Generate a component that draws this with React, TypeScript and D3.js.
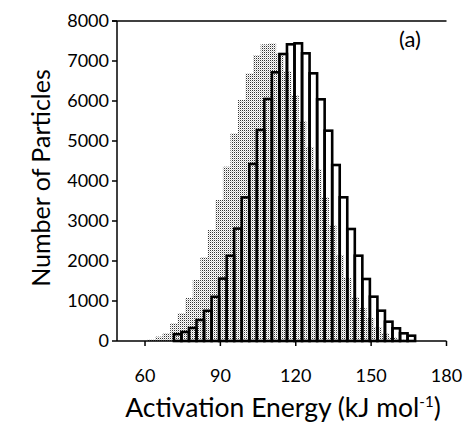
import * as d3 from "d3";

// outlined histogram (bin centres, kJ/mol) and counts
const outlineCenters = [
  73, 76, 79, 82, 85, 88, 91, 94, 97, 100, 103, 106, 109, 112, 115, 118,
  121, 124, 127, 130, 133, 136, 139, 142, 145, 148, 151, 154, 157, 160, 163, 166,
];
const outlineCounts = [
  170, 225, 325, 525, 755, 1105, 1560, 2130, 2810, 3590, 4425, 5275, 6050, 6717, 7175, 7417,
  7442, 7192, 6692, 6042, 5258, 4400, 3592, 2800, 2133, 1550, 1108, 758, 483, 317, 192, 133,
];

// shaded histogram
const shadeCenters = [
  62.5, 65.5, 68.5, 71.5, 74.5, 77.5, 80.5, 83.5, 86.5, 89.5, 92.5, 95.5, 98.5, 101.5, 104.5,
  107.5, 110.5, 113.5, 116.5, 119.5, 122.5, 125.5, 128.5, 131.5, 134.5, 137.5, 140.5, 143.5,
  146.5, 149.5, 152.5, 155.5, 158.5, 161.5,
];
const shadeCounts = [
  40, 110, 200, 450, 700, 1075, 1525, 2100, 2775, 3525, 4358, 5192, 6025, 6692, 7150,
  7417, 7442, 7200, 6750, 6150, 5500, 4850, 4300, 3600, 2900, 2150, 1575, 1100,
  820, 575, 350, 200, 100, 40,
];
const binWidth = 3;

const xTicks = [60, 90, 120, 150, 180];
const yTicks = [0, 1000, 2000, 3000, 4000, 5000, 6000, 7000, 8000];

const W = 467;
const H = 425;
const left = 117;
const right = 446.5;
const top = 21;
const bottom = 341;
const font = "Lato, 'Open Sans', sans-serif";

const App = () => {
  const x = d3.scaleLinear().domain([48.85, 180]).range([left, right]);
  const y = d3.scaleLinear().domain([0, 8000]).range([bottom, top]);

  const shade = shadeCenters.map((c, i) => ({ c, v: shadeCounts[i] }));
  const outline = outlineCenters.map((c, i) => ({ c, v: outlineCounts[i] }));

  return (
    <svg
      width={W}
      height={H}
      style={{ position: "absolute", left: 0, top: 0, background: "#fff" }}
    >
      <defs>
        <pattern id="dots" width="2" height="2" patternUnits="userSpaceOnUse">
          <rect width="2" height="2" fill="#fff" />
          <rect width="1" height="1" fill="#333" />
          <rect x="1" y="1" width="1" height="1" fill="#c8c8c8" />
        </pattern>
      </defs>

      {/* shaded distribution */}
      <g fill="url(#dots)">
        {shade.map((d) => (
          <rect
            key={d.c}
            x={x(d.c - binWidth / 2)}
            y={y(d.v)}
            width={x(d.c + binWidth / 2) - x(d.c - binWidth / 2) + 0.5}
            height={y(0) - y(d.v)}
          />
        ))}
      </g>

      {/* outlined bars */}
      <g fill="none" stroke="#000" strokeWidth={2.6}>
        {outline.map((d) => (
          <rect
            key={d.c}
            x={x(d.c - binWidth / 2)}
            y={y(d.v)}
            width={x(d.c + binWidth / 2) - x(d.c - binWidth / 2)}
            height={y(0) - y(d.v)}
          />
        ))}
      </g>

      {/* axes */}
      <g stroke="#000" strokeWidth={1.5}>
        <line x1={left} x2={left} y1={top} y2={bottom} />
        <line x1={left} x2={right} y1={bottom} y2={bottom} />
        <line x1={left - 5} x2={right} y1={top} y2={top} />
        {yTicks.map((t) => (
          <line key={t} x1={left - 5} x2={left} y1={y(t)} y2={y(t)} />
        ))}
        {xTicks.map((t) => (
          <line key={t} x1={x(t)} x2={x(t)} y1={bottom} y2={bottom + 5} />
        ))}
      </g>

      <g fontFamily={font} fontSize={18} fill="#000">
        {yTicks.map((t) => (
          <text key={t} x={left - 8} y={y(t)} dy="0.36em" textAnchor="end">
            {t}
          </text>
        ))}
        {xTicks.map((t) => (
          <text key={t} x={x(t)} y={382} textAnchor="middle">
            {t}
          </text>
        ))}
      </g>

      <text x={410} y={47} fontFamily={font} fontSize={22} textAnchor="middle">
        (a)
      </text>

      <text
        x={283}
        y={417}
        fontFamily={font}
        fontSize={26.5}
        textAnchor="middle"
      >
        Activation Energy (kJ mol
        <tspan dy={-10} fontSize={15}>
          -1
        </tspan>
        <tspan dy={10}>)</tspan>
      </text>

      <text
        transform={`translate(50,178) rotate(-90)`}
        fontFamily={font}
        fontSize={25}
        textAnchor="middle"
      >
        Number of Particles
      </text>
    </svg>
  );
};

export default App;
